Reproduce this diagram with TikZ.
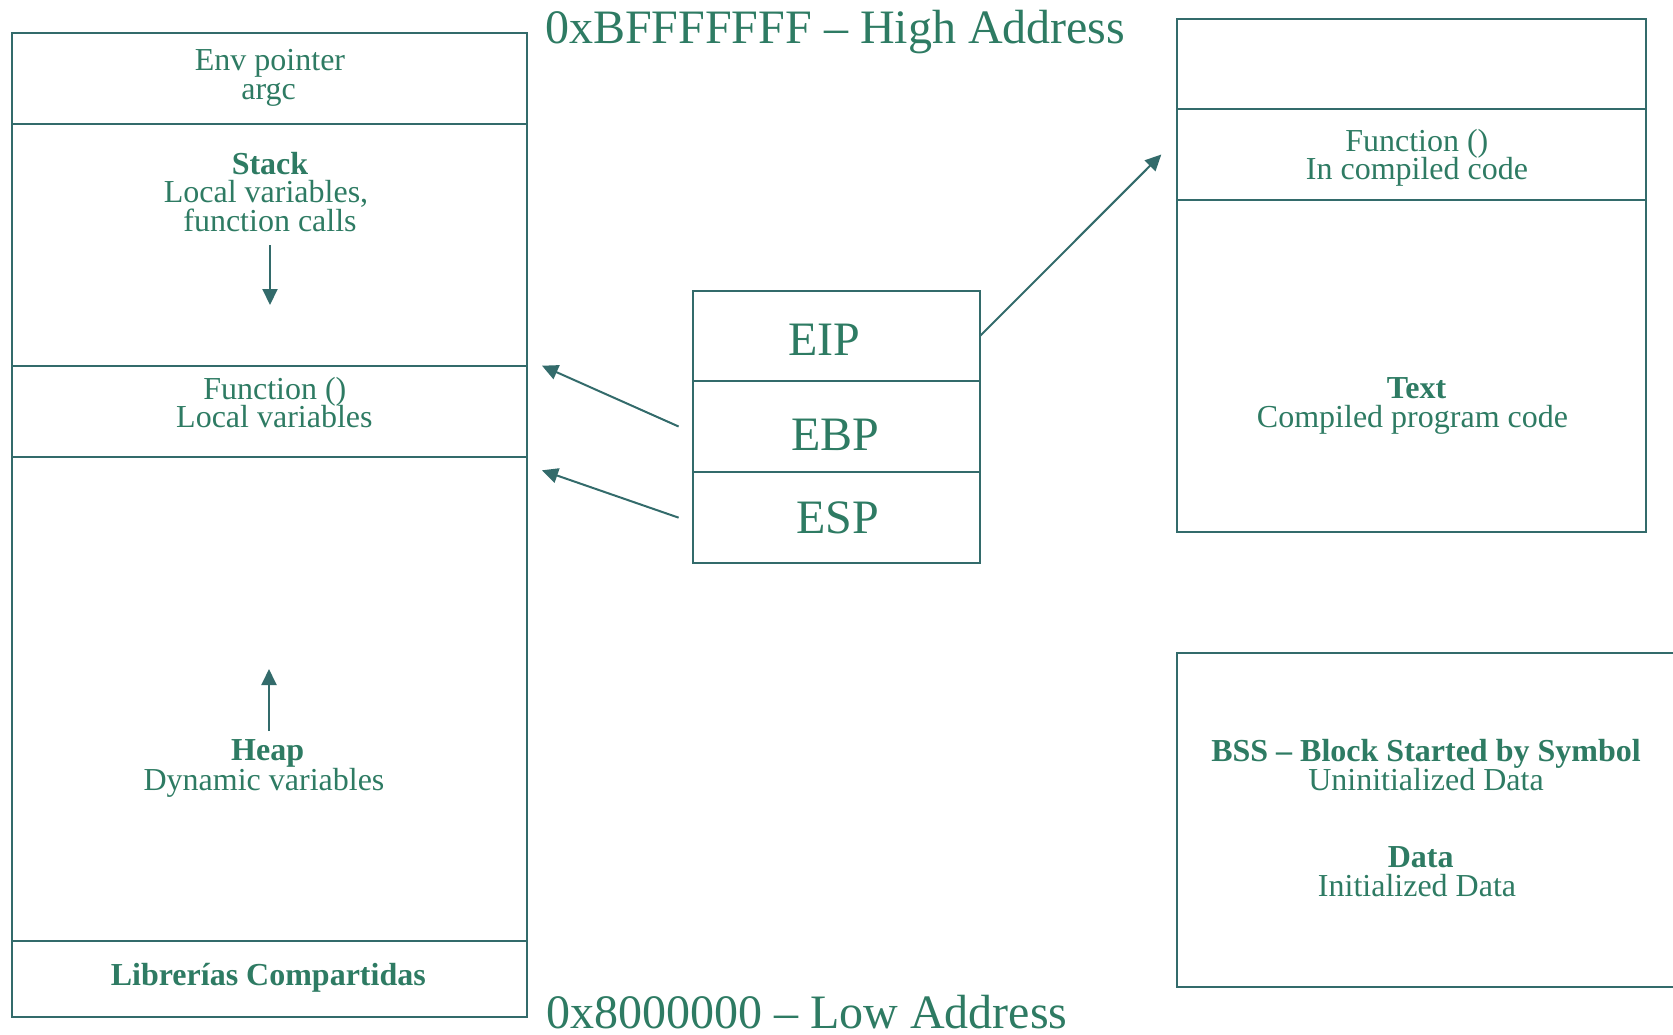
\documentclass[tikz,border=0pt]{standalone}
\usepackage{fontspec}
\setmainfont{Liberation Serif}
\usetikzlibrary{arrows.meta}
\definecolor{inkline}{RGB}{51,107,107}
\definecolor{inktext}{RGB}{46,123,99}
\begin{document}
\begin{tikzpicture}[x=1pt,y=-1pt,
  seg/.style 2 args={draw=inkline,line width=2pt,inner sep=0pt,outer sep=0pt,
    anchor=north west,minimum width=#1pt,minimum height=#2pt},
  lbl/.style={text=inktext,inner sep=0pt,anchor=base,font=\fontsize{32}{28}\selectfont},
  lblb/.style={lbl,font=\fontsize{32}{28}\selectfont\bfseries},
  reg/.style={text=inktext,inner sep=0pt,anchor=base,font=\fontsize{48}{48}\selectfont},
  addr/.style={text=inktext,inner sep=0pt,anchor=base west,font=\fontsize{48}{48}\selectfont},
  ptr/.style={draw=inkline,line width=2pt,-{Triangle[length=16pt,width=15pt]}},
]
\useasboundingbox (0,0) rectangle (1673,1034);
\clip (0,0) rectangle (1673,1034);

% process memory column
\node[seg={515}{90.7}]  (envseg)   at (12,33.3)  {};
\node[seg={515}{241.7}] (stackseg) at (12,124)   {};
\node[seg={515}{91.6}]  (funcseg)  at (12,365.7) {};
\node[seg={515}{483.4}] (heapseg)  at (12,457.3) {};
\node[seg={515}{76}]    (libseg)   at (12,940.7) {};

% CPU registers
\node[seg={287.4}{90}]   (eipseg) at (692.6,291) {};
\node[seg={287.4}{91}]   (ebpseg) at (692.6,381) {};
\node[seg={287.4}{91.3}] (espseg) at (692.6,472) {};

% code segment
\node[seg={468.7}{90.4}] (topseg)   at (1177.3,18.6) {};
\node[seg={468.7}{91}]   (fcodeseg) at (1177.3,109)  {};
\node[seg={468.7}{332}]  (textseg)  at (1177.3,200)  {};

% data segments (runs past the right edge)
\node[seg={560}{333.7}] (bssseg) at (1176.7,653) {};

% labels
\node[lbl]  (envt)   at (270,70.7)   {Env pointer};
\node[lbl]  (argct)  at (268.7,99)   {argc};
\node[lblb] (stackt) at (270,174)    {Stack};
\node[lbl]  (stackl1) at (266,202.7) {Local variables,};
\node[lbl]  (stackl2) at (270,231)   {function calls};
\node[lbl]  (funct)  at (274.8,399)  {Function ()};
\node[lbl]  (funcl)  at (274.4,427.7) {Local variables};
\node[lblb] (heapt)  at (267.6,760.7) {Heap};
\node[lbl]  (heapl)  at (264,790)    {Dynamic variables};
\node[lblb] (libt)   at (268.3,985.7) {Librerías Compartidas};

\node[addr] (hiaddr) at (545,43.3)   {0xBFFFFFFF – High Address};
\node[addr] (loaddr) at (546,1028.3) {0x8000000 – Low Address};

\node[reg] (eipt) at (824,355)    {EIP};
\node[reg] (ebpt) at (835.5,450.7) {EBP};
\node[reg] (espt) at (837.4,533.3) {ESP};

\node[lbl]  (fcodet) at (1416.8,151.8) {Function ()};
\node[lbl]  (fcodel) at (1417,179.6)   {In compiled code};
\node[lblb] (textt)  at (1416.5,398)   {Text};
\node[lbl]  (textl)  at (1412.5,427.5) {Compiled program code};

\node[lblb] (bsst)  at (1426,761.7)   {BSS – Block Started by Symbol};
\node[lbl]  (bssl)  at (1426,790)     {Uninitialized Data};
\node[lblb] (datat) at (1420.7,867.7) {Data};
\node[lbl]  (datal) at (1417,896.7)   {Initialized Data};

% growth directions
\coordinate (stackfrom) at (270,245);
\coordinate (stackto)   at (270,305);
\coordinate (heapfrom)  at (269,731);
\coordinate (heapto)    at (269,669);
\draw[ptr] (stackfrom) -- (stackto);
\draw[ptr] (heapfrom) -- (heapto);

% register pointers
\draw[ptr] ([xshift=-14pt]ebpseg.west) -- ([xshift=15pt]funcseg.north east);
\draw[ptr] ([xshift=-14pt]espseg.west) -- ([xshift=15pt,yshift=-13pt]heapseg.north east);
\draw[ptr] (eipseg.east) -- ([xshift=-16pt]fcodeseg.west);
\end{tikzpicture}
\end{document}
